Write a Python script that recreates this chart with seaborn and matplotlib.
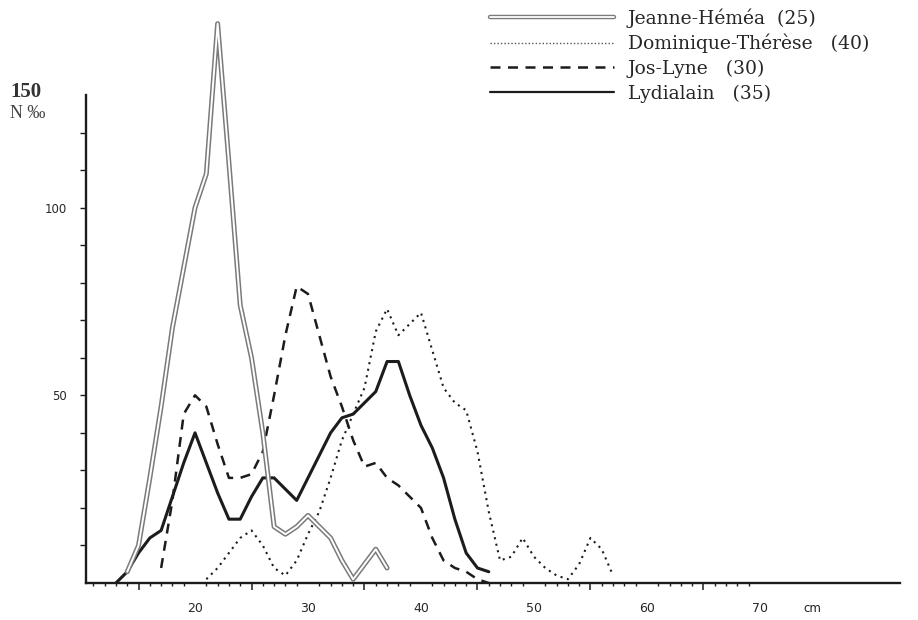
"""Length frequency curves (N per mille by cm class) for four samples."""
import matplotlib
matplotlib.use("Agg")
import matplotlib.pyplot as plt
from matplotlib.lines import Line2D
from matplotlib.legend_handler import HandlerTuple
import pandas as pd
import seaborn as sns

# values, per 1 cm class
jeanne_cm = list(range(14, 38))
jeanne_n = [3, 10, 28, 47, 68, 84, 100, 109, 149, 112, 74, 60, 40, 15,
            13, 15, 18, 15, 12, 6, 1, 5, 9, 4]

dominique_cm = list(range(21, 58))
dominique_n = [1, 4, 8, 12, 14, 10, 4, 2, 6, 13, 19, 28, 38, 45, 52, 67,
               73, 66, 69, 72, 62, 52, 48, 46, 35, 19, 6, 7, 12, 7, 4, 2,
               1, 5, 12, 9, 2]

joslyne_cm = list(range(17, 47))
joslyne_n = [4, 22, 45, 50, 47, 37, 28, 28, 29, 35, 50, 66, 79, 77, 66, 55,
             47, 38, 31, 32, 28, 26, 23, 20, 12, 6, 4, 3, 1, 0]

lydialain_cm = list(range(13, 47))
lydialain_n = [0, 3, 8, 12, 14, 23, 32, 40, 32, 24, 17, 17, 23, 28, 28, 25,
               22, 28, 34, 40, 44, 45, 48, 51, 59, 59, 50, 42, 36, 28, 17,
               8, 4, 3]

labels = ["Jeanne-Héméa  (25)", "Dominique-Thérèse   (40)",
          "Jos-Lyne   (30)", "Lydialain   (35)"]

x_major = [20, 30, 40, 50, 60, 70]
x_mid = [15, 25, 35, 45, 55, 65]
x_minor = [i for i in range(11, 71) if i % 5]
y_major = [50, 100]
y_minor = [10, 20, 30, 40, 60, 70, 80, 90, 110, 120]

df = pd.concat([
    pd.DataFrame({"cm": jeanne_cm, "n": jeanne_n, "serie": labels[0]}),
    pd.DataFrame({"cm": dominique_cm, "n": dominique_n, "serie": labels[1]}),
    pd.DataFrame({"cm": joslyne_cm, "n": joslyne_n, "serie": labels[2]}),
    pd.DataFrame({"cm": lydialain_cm, "n": lydialain_n, "serie": labels[3]}),
])

sns.set_theme(style="white")
plt.rcParams["font.family"] = ["DejaVu Sans"]

INK = "#1c1c1c"
GREY = "#7a7a7a"

fig = plt.figure(figsize=(9.18, 6.2), dpi=100)
ax = fig.add_axes([86 / 918, 37 / 620, 814 / 918, 583 / 620])


def serie(name):
    return df[df["serie"] == name]


common = dict(x="cm", y="n", estimator=None, legend=False, ax=ax)
sns.lineplot(data=serie(labels[3]), color=INK, lw=2.2, zorder=3, **common)
sns.lineplot(data=serie(labels[2]), color=INK, lw=1.8,
             linestyle=(0, (4, 3)), zorder=3, **common)
sns.lineplot(data=serie(labels[1]), color=INK, lw=1.5,
             linestyle=(0, (1, 2.2)), zorder=3, **common)
# double line: thick grey stroke with a white core
sns.lineplot(data=serie(labels[0]), color=GREY, lw=3.6, zorder=4, **common)
sns.lineplot(data=serie(labels[0]), color="white", lw=1.4, zorder=5, **common)

ax.set_xlim(10.35, 82.4)
ax.set_ylim(0, 155.3)
ax.set_xlabel("")
ax.set_ylabel("")

for side in ("top", "right"):
    ax.spines[side].set_visible(False)
for side in ("left", "bottom"):
    ax.spines[side].set_color(INK)
    ax.spines[side].set_linewidth(1.7)
ax.spines["left"].set_bounds(0, 130)

ax.set_xticks(x_major)
ax.set_xticklabels([str(v) for v in x_major])
ax.set_xticks(x_minor, minor=True)
ax.tick_params(axis="x", which="major", direction="out", length=8,
               width=1.2, color=INK, labelsize=9, pad=6)
ax.tick_params(axis="x", which="minor", direction="out", length=2.5,
               width=1.0, color=INK, bottom=True)

sec = ax.secondary_xaxis("bottom")
sec.set_xticks(x_mid)
sec.tick_params(length=5, width=1.1, color=INK, labelbottom=False)
sec.spines["bottom"].set_visible(False)

ax.set_yticks(y_major)
ax.set_yticklabels([str(v) for v in y_major])
ax.set_yticks(y_minor, minor=True)
ax.tick_params(axis="y", which="both", direction="out", length=4,
               width=1.0, color=INK, labelsize=8.5, pad=9.5, left=True)

fig.text(812 / 918, 1 - 608 / 620, "cm", ha="center", va="center",
         fontsize=8.5, color=INK)
fig.text(10 / 918, 1 - 92 / 620, "150", ha="left", va="center",
         fontsize=15, family="Liberation Serif", weight="bold", color="#333")
fig.text(10 / 918, 1 - 114 / 620, "N ‰", ha="left", va="center",
         fontsize=13, family="Liberation Serif", color="#444")

handles = [
    (Line2D([], [], color=GREY, lw=3.2), Line2D([], [], color="white", lw=1.3)),
    Line2D([], [], color="#555", lw=1.0, linestyle=(0, (1, 1.5))),
    Line2D([], [], color=INK, lw=1.8, linestyle=(0, (4, 3))),
    Line2D([], [], color=INK, lw=1.6),
]
fig.legend(handles, labels, handler_map={tuple: HandlerTuple(ndivide=1)},
           loc="upper left", bbox_to_anchor=(490 / 918, 1 - 8 / 620),
           frameon=False, borderpad=0, borderaxespad=0, handlelength=6.6,
           handletextpad=0.75, labelspacing=0.34,
           prop={"family": "DejaVu Serif", "size": 13.5})

fig.savefig("out.png", dpi=100)
